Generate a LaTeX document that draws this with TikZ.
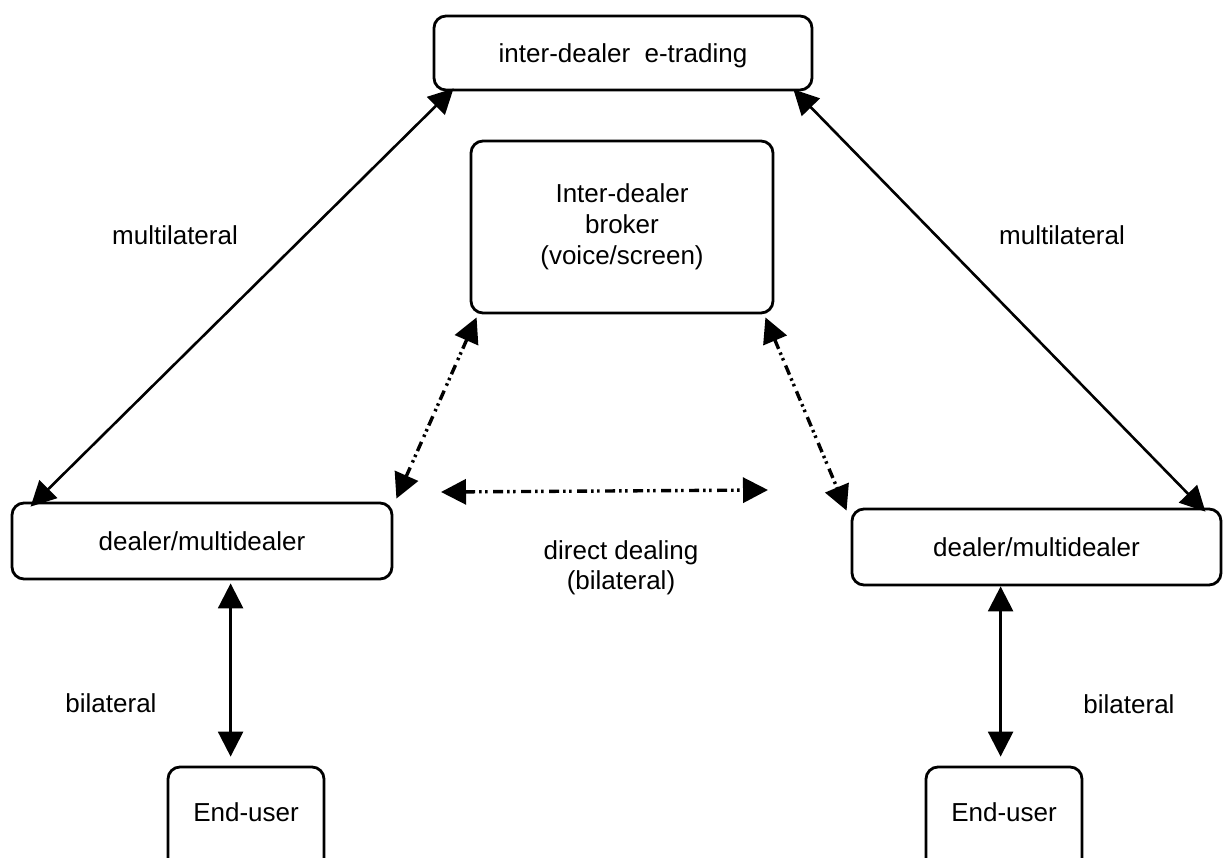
\documentclass[tikz,border=0pt]{standalone}
\usepackage{fontspec}
\setmainfont{Liberation Sans}
\usetikzlibrary{arrows.meta,calc}
\begin{document}
\begin{tikzpicture}[x=1pt,y=-1pt,
  txt/.style={font=\fontsize{26}{30}\selectfont},
  box/.style={txt,draw,line width=2.8pt,rounded corners=12pt,inner sep=0pt,align=center},
  lbl/.style={txt,inner sep=0pt,align=center},
  tip/.tip={Triangle[length=25pt,width=25pt]},
  biarrow/.style={line width=2.6pt,{tip}-{tip}},
  dda/.style={line width=3.4pt,{tip}-{tip},dash pattern=on 10pt off 4pt on 2.5pt off 3.5pt on 2.5pt off 5.5pt}]
\path[use as bounding box,fill=white] (0,0) rectangle (1223,858);
% boxes
\node[box,minimum width=378pt,minimum height=74pt,text height=25pt,text depth=5.5pt] (et) at (623,53) {inter-dealer\ \ e-trading};
\node[box,minimum width=302pt,minimum height=172pt,font=\fontsize{26}{31}\selectfont] (idb) at (622,227) {Inter-dealer\\broker\\(voice/screen)};
\node[box,minimum width=380pt,minimum height=76pt] (ld) at (202,541) {dealer/multidealer};
\node[box,minimum width=369pt,minimum height=76pt] (rd) at (1036.5,547) {dealer/multidealer};
\node[box,minimum width=156pt,minimum height=120pt,text height=19pt,text depth=30pt] (eu1) at (246,827) {End-user};
\node[box,minimum width=156pt,minimum height=120pt,text height=19pt,text depth=30pt] (eu2) at (1004,827) {End-user};
% labels
\node[lbl] (m1) at (175,235) {multilateral};
\node[lbl] (m2) at (1062,235) {multilateral};
\node[lbl] (dd) at (621,568) {direct dealing\\(bilateral)};
\node[lbl] (b1) at (111,703) {bilateral};
\node[lbl] (b2) at (1129,704) {bilateral};
% connectors
\draw[biarrow] ($(et.south west)+(21,-3)$) -- ($(ld.north west)+(20,5)$);
\draw[biarrow] ($(et.south east)+(-20,-2)$) -- ($(rd.north east)+(-17,4)$);
\draw[dda] ($(idb.south west)+(7,3)$) -- ($(ld.north east)+(3,-3)$);
\draw[dda] ($(idb.south east)+(-9,3)$) -- ($(rd.north west)+(-4,3)$);
\coordinate (dl) at (441,492);
\coordinate (dr) at (768,490);
\draw[dda] (dl) -- (dr);
\draw[biarrow] ($(ld.south west)+(220,3)$) -- ($(eu1.north west)+(64,-9)$);
\draw[biarrow] ($(rd.south west)+(150,0)$) -- ($(eu2.north west)+(76,-9)$);
\end{tikzpicture}
\end{document}
